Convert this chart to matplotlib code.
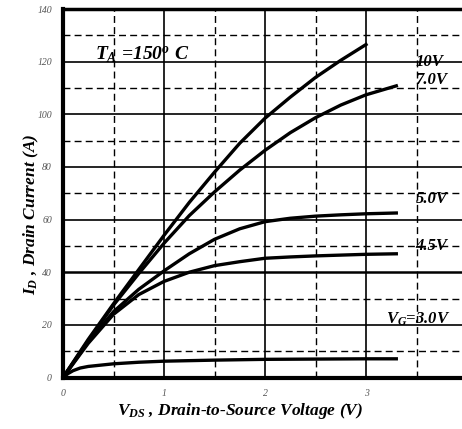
import numpy as np
import matplotlib
matplotlib.use("Agg")
import matplotlib.pyplot as plt

# Output characteristics, T_A = 150 C
vds = [0, 0.25, 0.5, 0.75, 1.0, 1.25, 1.5, 1.75, 2.0, 2.25, 2.5, 2.75, 3.0, 3.3]
id_10v = [0, 14.5, 28, 41, 54, 66.5, 78, 89, 98.5, 106.5, 114, 120.5, 126.5]
id_7v = [0, 14, 27.5, 39.5, 51, 61.5, 70.5, 78.8, 86.3, 93, 98.7, 103.5, 107.4, 110.8]
id_5v = [0, 13.5, 25, 33.5, 40.5, 47, 52.5, 56.5, 59.2, 60.5, 61.3, 61.8, 62.2, 62.5]
id_45v = [0, 13, 24, 31.5, 36.5, 40, 42.5, 44, 45.3, 45.8, 46.2, 46.5, 46.8, 47]

vds_3v = [0, 0.05, 0.1, 0.17, 0.25, 0.5, 0.75, 1.0, 1.5, 2.0, 2.5, 3.0, 3.3]
id_3v = [0, 1.5, 2.6, 3.6, 4.2, 5.2, 5.8, 6.2, 6.6, 6.9, 7.0, 7.1, 7.1]

curve_labels = ["10V", "7.0V", "5.0V", "4.5V", r"$V_G$=3.0V"]
label_pos = [(3.49, 120), (3.49, 113), (3.49, 68), (3.49, 50), (3.2, 22)]

xticks = [0, 1, 2, 3]
yticks = [0, 20, 40, 60, 80, 100, 120, 140]

plt.rcParams['mathtext.fontset'] = 'custom'
plt.rcParams['mathtext.rm'] = 'Liberation Serif:italic:bold'
plt.rcParams['mathtext.it'] = 'Liberation Serif:italic:bold'
plt.rcParams['mathtext.bf'] = 'Liberation Serif:italic:bold'

serif = dict(family='Liberation Serif', style='italic', weight='bold')

fig = plt.figure(figsize=(4.62, 4.29), dpi=100)
ax = fig.add_axes([63 / 462, 1 - 377.5 / 429, 404 / 462, 368.5 / 429])

ax.set_xlim(0, 4.0)
ax.set_ylim(0, 140)

# grid: solid at whole steps, dashed halfway
for x in [1, 2, 3]:
    ax.axvline(x, color='black', lw=1.2, zorder=1)
for x in [0.5, 1.5, 2.5, 3.5]:
    ax.axvline(x, color='black', lw=1.0, ls=(0, (5, 3)), zorder=1)
for y in range(20, 140, 20):
    ax.axhline(y, color='black', lw=1.2 if y != 40 else 1.8, zorder=1)
for y in range(10, 140, 20):
    ax.axhline(y, color='black', lw=1.0, ls=(0, (5, 3)), zorder=1)

for ys in [id_10v, id_7v, id_5v, id_45v]:
    ax.plot(vds[:len(ys)], ys, color='black', lw=2.4, zorder=3,
            solid_joinstyle='round')
ax.plot(vds_3v, id_3v, color='black', lw=2.4, zorder=3, solid_joinstyle='round')

for txt, (x, y) in zip(curve_labels, label_pos):
    ax.text(x, y, txt, fontsize=12, color='black', zorder=4, va='center', **serif)

ax.text(0.32, 120.8, r'$T_A$ =150$^o$ C', fontsize=14, color='black', **serif)

for side in ['left', 'bottom']:
    ax.spines[side].set_linewidth(3)
ax.spines['top'].set_linewidth(2.5)
ax.spines['right'].set_visible(False)

ax.set_xticks(xticks)
ax.set_yticks(yticks)
ax.tick_params(length=0, pad=8, labelsize=7, colors='#555555')
for lab in ax.get_xticklabels() + ax.get_yticklabels():
    lab.set_family('Liberation Serif')
    lab.set_style('italic')

fig.text(0.068, 0.5, r'$I_D$ , Drain Current (A)', rotation=90,
         ha='center', va='center', fontsize=12.5, **serif)
fig.text(0.52, 0.043, r'$V_{DS}$ , Drain-to-Source Voltage (V)',
         ha='center', va='center', fontsize=12.5, **serif)

fig.savefig('out.png', dpi=100, facecolor='white')
